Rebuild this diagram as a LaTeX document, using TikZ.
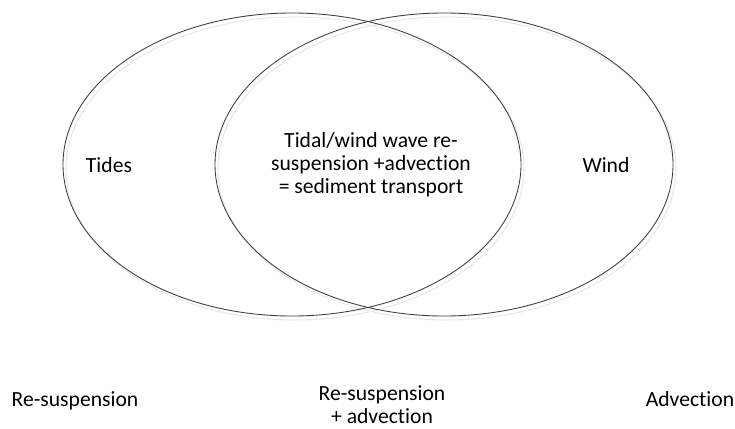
\documentclass[tikz,border=0pt]{standalone}
\usepackage{fontspec}
\setmainfont{Carlito}[Ligatures=NoCommon]
\usetikzlibrary{calc}

\begin{document}
\begin{tikzpicture}[
  every node/.style={font=\fontsize{12.3}{13.1}\selectfont, align=center},
  ring/.style={line width=0.5pt, draw=black!75},
  ringshadow/.style={line width=0.6pt, draw=black!9}
]
\useasboundingbox (0,0) rectangle (14.7,8.56);

% the two sets, each with its faint shadow
\draw [ringshadow] (5.90,5.19) ellipse (4.58 and 3.03);
\draw [ringshadow] (8.94,5.19) ellipse (4.58 and 3.03);
\draw [ring] (5.84,5.27) ellipse (4.58 and 3.03);
\draw [ring] (8.88,5.27) ellipse (4.58 and 3.03);

\node (tides) at (2.18,5.26) {Tides};
\node (wind) at (12.12,5.26) {Wind};
\node (both) at (7.42,5.26) {Tidal/wind wave re-\\suspension +advection\\= sediment transport};

% what each part gives
\node (resus) at (1.5,0.54) {Re-suspension};
\node (resusadv) at (7.64,0.46) {Re-suspension\\+ advection};
\node (adv) at (13.8,0.58) {Advection};
\end{tikzpicture}
\end{document}
